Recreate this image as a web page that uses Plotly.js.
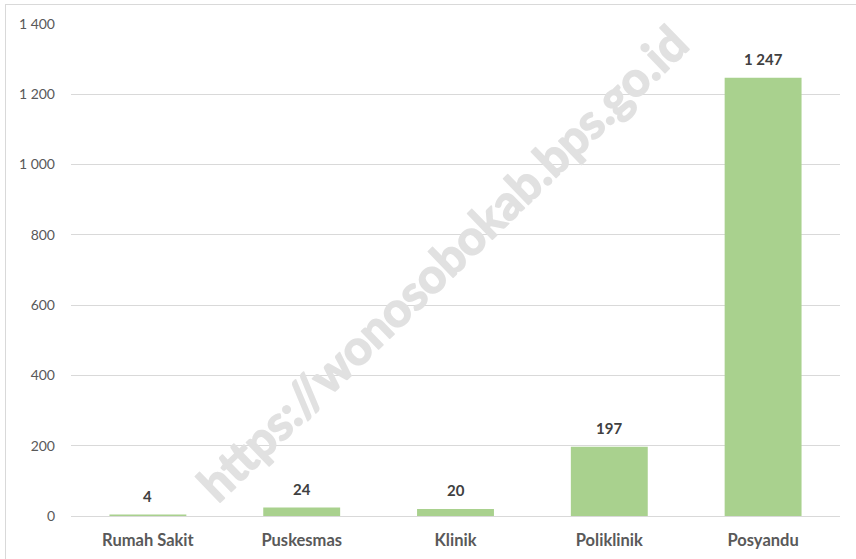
<!DOCTYPE html>
<html>
<head>
<meta charset="utf-8">
<script src="https://cdn.plot.ly/plotly-3.0.1.min.js"></script>
<style>
html,body{margin:0;padding:0;background:#fff;overflow:hidden;}
#wrap{position:relative;width:856px;height:559px;}
#chart{width:856px;height:559px;}
#frame{position:absolute;left:5px;top:4px;width:900px;height:600px;border:1px solid #d9d9d9;pointer-events:none;}
g.annotation[data-index="0"] text{stroke:#e1e1e1;stroke-width:1.6px;stroke-linejoin:round;}
</style>
</head>
<body>
<div id="wrap">
<div id="chart"></div>
<div id="frame"></div>
</div>
<script>
const categories = ["Rumah Sakit", "Puskesmas", "Klinik", "Poliklinik", "Posyandu"];
const values = [4, 24, 20, 197, 1247];
const yTicks = [0, 200, 400, 600, 800, 1000, 1200, 1400];
const valueLabels = ["4", "24", "20", "197", "1 247"];

const trace = {
  type: "bar",
  x: categories,
  y: values,
  marker: {color: "#a9d18e"},
  hoverinfo: "none"
};

const labelAnnotations = categories.map((c, i) => ({
  x: c, y: values[i], xref: "x", yref: "y",
  text: "<b>" + valueLabels[i] + "</b>",
  showarrow: false,
  yanchor: "middle",
  yshift: 19,
  font: {family: "Lato, 'Open Sans', sans-serif", size: 15, color: "#404040"}
}));

const watermark = {
  text: "https://wonosobokab.bps.go.id",
  xref: "paper", yref: "paper",
  x: 0.482, y: 0.515,
  showarrow: false,
  textangle: -44,
  font: {family: "Lato, sans-serif", size: 48, color: "#e1e1e1", weight: "bold"}
};

const layout = {
  width: 856,
  height: 559,
  margin: {l: 71, r: 16, t: 24, b: 43},
  paper_bgcolor: "#ffffff",
  plot_bgcolor: "#ffffff",
  separators: ". ",
  bargap: 0.5,
  showlegend: false,
  font: {family: "Lato, 'Open Sans', sans-serif", color: "#595959"},
  xaxis: {
    type: "category",
    showgrid: false,
    showline: false,
    zeroline: false,
    ticks: "",
    tickfont: {size: 16.5, color: "#595959", weight: "bold"},
    ticklabelstandoff: 12
  },
  yaxis: {
    range: [0, 1400],
    tickvals: yTicks,
    tickformat: ",d",
    showgrid: true,
    gridcolor: "#d9d9d9",
    gridwidth: 1,
    zeroline: true,
    zerolinecolor: "#d9d9d9",
    zerolinewidth: 1,
    showline: false,
    ticks: "",
    tickfont: {size: 14, color: "#595959"},
    ticklabelstandoff: 15
  },
  annotations: [watermark].concat(labelAnnotations)
};

Plotly.newPlot("chart", [trace], layout, {displayModeBar: false, staticPlot: true});
</script>
</body>
</html>
